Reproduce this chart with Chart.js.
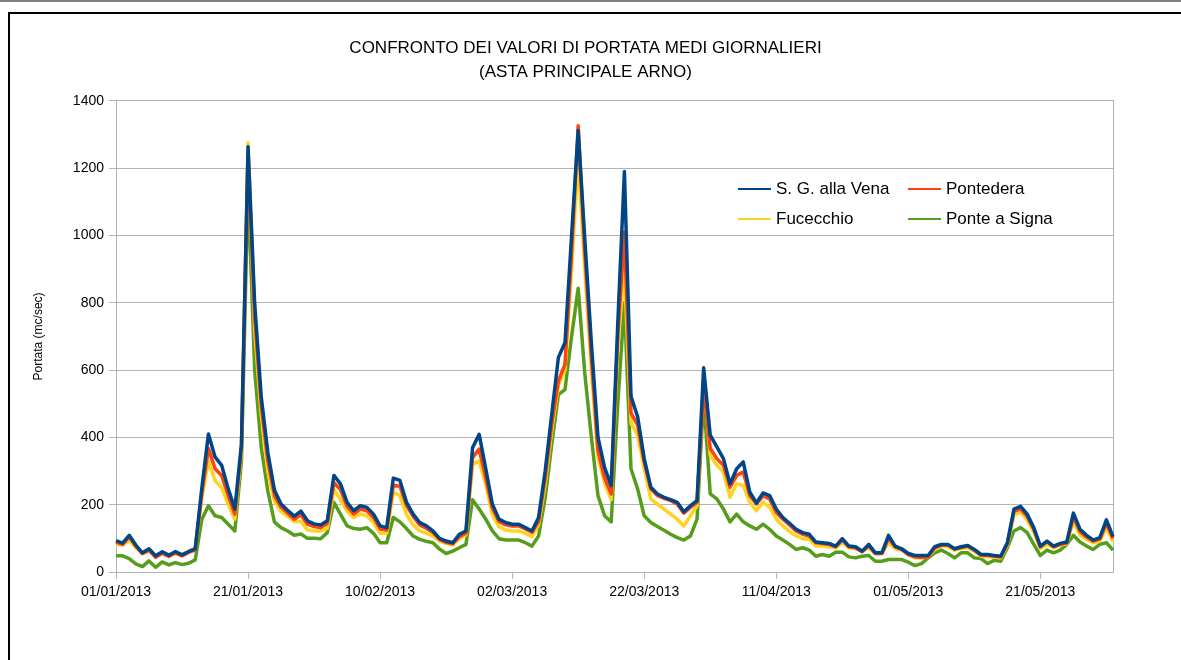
<!DOCTYPE html>
<html>
<head>
<meta charset="utf-8">
<title>Confronto dei valori di portata medi giornalieri</title>
<script src="https://cdn.jsdelivr.net/npm/chart.js@4.4.1/dist/chart.umd.min.js"></script>
<style>
  html, body { margin: 0; padding: 0; background: #fff; }
  #wrap { position: relative; width: 1181px; height: 660px; overflow: hidden; }
  #topbar { position: absolute; left: 0; top: 0; width: 1181px; height: 2px; background: #808080; }
  #frame { position: absolute; left: 8px; top: 12px; right: 0; bottom: 0; border-top: 2px solid #000; border-left: 2px solid #000; }
  #myChart { position: absolute; left: 0; top: 0; }
</style>
</head>
<body>
<div id="wrap">
  <div id="topbar"></div>
  <div id="frame"></div>
  <canvas id="myChart" width="1181" height="660"></canvas>
</div>
<script>
// serie giornaliere 01/01/2013 - 01/06/2013 (mc/sec)
const sgVena = [
  93, 86, 109, 80, 57, 69, 48, 60, 50, 61,
  51, 61, 69, 250, 410, 342, 317, 247, 187, 380,
  1264, 800, 520, 355, 243, 202, 183, 166, 181, 152,
  143, 140, 152, 287, 262, 207, 182, 197, 192, 172,
  137, 132, 279, 272, 207, 172, 147, 137, 122, 100,
  92, 87, 112, 122, 369, 409, 307, 202, 157, 147,
  142, 142, 132, 122, 162, 300, 470, 637, 682, 1000,
  1312, 990, 680, 400, 310, 257, 740, 1190, 522, 462,
  337, 252, 232, 222, 215, 207, 179, 197, 212, 607,
  407, 372, 337, 262, 307, 327, 237, 205, 235, 227,
  187, 162, 145, 127, 117, 112, 89, 87, 85, 77,
  99, 77, 75, 62, 82, 57, 57, 109, 77, 69,
  55, 49, 49, 49, 75, 82, 82, 69, 75, 79,
  67, 52, 52, 49, 47, 87, 187, 195, 172, 132,
  77, 92, 77, 85, 89, 175, 127, 109, 95, 102,
  155, 105
];
const pontedera = [
  89, 82, 104, 77, 55, 65, 44, 56, 46, 57,
  48, 58, 66, 235, 367, 307, 287, 227, 172, 370,
  1245, 760, 495, 330, 228, 193, 175, 157, 170, 142,
  135, 132, 145, 265, 245, 195, 172, 187, 182, 162,
  128, 125, 258, 255, 198, 165, 140, 130, 117, 97,
  88, 84, 105, 115, 340, 365, 280, 190, 150, 140,
  137, 137, 128, 118, 150, 280, 440, 567, 617, 950,
  1326, 950, 640, 360, 280, 232, 700, 1010, 472, 437,
  327, 247, 227, 219, 212, 202, 175, 192, 207, 550,
  367, 337, 317, 252, 287, 297, 227, 202, 227, 217,
  177, 157, 140, 122, 112, 107, 87, 85, 82, 75,
  95, 75, 72, 60, 78, 55, 55, 100, 75, 67,
  52, 45, 43, 45, 72, 80, 80, 68, 73, 77,
  65, 50, 50, 47, 45, 84, 180, 188, 165, 127,
  75, 90, 75, 82, 86, 165, 120, 104, 92, 98,
  145, 100
];
const fucecchio = [
  82, 80, 95, 72, 55, 62, 48, 55, 50, 55,
  52, 60, 72, 220, 330, 272, 250, 200, 157, 360,
  1276, 720, 465, 300, 210, 180, 165, 150, 150, 125,
  122, 122, 130, 245, 215, 180, 162, 172, 167, 147,
  115, 115, 237, 227, 170, 140, 122, 115, 107, 92,
  85, 80, 100, 110, 320, 330, 260, 170, 135, 125,
  122, 122, 115, 105, 140, 260, 420, 555, 600, 900,
  1230, 900, 600, 340, 265, 215, 680, 900, 442, 407,
  307, 217, 202, 187, 172, 157, 137, 167, 197, 570,
  347, 317, 297, 222, 262, 257, 207, 182, 207, 192,
  157, 137, 120, 107, 99, 97, 77, 77, 75, 72,
  87, 72, 69, 62, 72, 55, 55, 87, 69, 65,
  52, 42, 42, 45, 67, 77, 75, 65, 70, 72,
  62, 47, 45, 44, 42, 80, 170, 178, 155, 120,
  70, 82, 72, 80, 84, 150, 110, 97, 87, 92,
  130, 90
];
const ponteSigna = [
  48, 48, 40, 24, 16, 33, 14, 30, 21, 28,
  22, 26, 36, 157, 197, 167, 162, 142, 122, 330,
  1150, 600, 370, 240, 148, 132, 122, 109, 113, 100,
  100, 99, 117, 207, 172, 137, 129, 127, 132, 115,
  87, 87, 162, 149, 129, 107, 97, 91, 87, 68,
  55, 62, 72, 82, 215, 187, 157, 122, 99, 95,
  95, 95, 87, 77, 107, 220, 380, 527, 542, 700,
  843, 590, 400, 227, 167, 149, 500, 800, 307, 247,
  167, 147, 135, 124, 112, 102, 95, 107, 157, 520,
  232, 217, 187, 149, 172, 149, 137, 127, 142, 127,
  107, 95, 82, 67, 72, 65, 47, 52, 47, 59,
  59, 45, 42, 47, 49, 32, 32, 37, 37, 37,
  29, 19, 25, 42, 57, 65, 55, 42, 57, 57,
  42, 40, 25, 35, 32, 72, 122, 132, 117, 82,
  49, 65, 57, 65, 82, 109, 89, 77, 67, 82,
  87, 65
];

const tickLabels = ["01/01/2013", "21/01/2013", "10/02/2013", "02/03/2013",
  "22/03/2013", "11/04/2013", "01/05/2013", "21/05/2013"];
const yTicks = [0, 200, 400, 600, 800, 1000, 1200, 1400];

// un'etichetta per ogni giorno
const pad = (n) => String(n).padStart(2, "0");
const days = [];
for (let i = 0; i < sgVena.length; i++) {
  const d = new Date(Date.UTC(2013, 0, 1 + i));
  days.push(pad(d.getUTCDate()) + "/" + pad(d.getUTCMonth() + 1) + "/" + d.getUTCFullYear());
}

const gridColor = "#b3b3b3";
Chart.defaults.font.family = "'Liberation Sans', Arial, sans-serif";
Chart.defaults.color = "#000";

// legenda dentro l'area del grafico, su due colonne
const legendBox = {
  id: "legendBox",
  afterDraw(chart) {
    const { ctx, chartArea } = chart;
    const cols = [chartArea.left + 622, chartArea.left + 792];
    const rows = [chartArea.top + 88, chartArea.top + 118];
    ctx.save();
    ctx.font = "17px 'Liberation Sans', Arial, sans-serif";
    ctx.textBaseline = "middle";
    chart.data.datasets.forEach((ds, i) => {
      const x = cols[i % 2];
      const y = rows[Math.floor(i / 2)];
      ctx.strokeStyle = ds.borderColor;
      ctx.lineWidth = 2;
      ctx.beginPath();
      ctx.moveTo(x, y);
      ctx.lineTo(x + 33, y);
      ctx.stroke();
      ctx.fillStyle = "#000";
      ctx.fillText(ds.label, x + 38, y);
    });
    ctx.restore();
  },
};

const ctx = document.getElementById("myChart").getContext("2d");
const myChart = new Chart(ctx, {
  type: "line",
  data: {
    labels: days,
    datasets: [
      { label: "S. G. alla Vena", data: sgVena, borderColor: "#004586" },
      { label: "Pontedera", data: pontedera, borderColor: "#ff420e" },
      { label: "Fucecchio", data: fucecchio, borderColor: "#ffd320" },
      { label: "Ponte a Signa", data: ponteSigna, borderColor: "#579d1c" },
    ],
  },
  options: {
    responsive: false,
    animation: false,
    layout: { padding: { left: 10, right: 20, top: 0, bottom: 0 } },
    elements: {
      line: { borderWidth: 3.5, tension: 0, borderJoinStyle: "round" },
      point: { radius: 0, hoverRadius: 0 },
    },
    plugins: {
      legend: { display: false },
      tooltip: { enabled: false },
      title: {
        display: true,
        text: ["CONFRONTO DEI VALORI DI PORTATA MEDI GIORNALIERI", "(ASTA PRINCIPALE ARNO)"],
        color: "#000",
        font: { size: 17, weight: "normal", lineHeight: 1.38 },
        padding: { top: 37, bottom: 17 },
      },
    },
    scales: {
      x: {
        offset: false,
        border: { color: gridColor },
        grid: { drawOnChartArea: false, color: gridColor, tickLength: 7 },
        ticks: {
          autoSkip: false,
          maxRotation: 0,
          font: { size: 14 },
          padding: 5,
          callback: function (value, index) {
            const lab = this.getLabelForValue(value);
            return tickLabels.includes(lab) ? lab : null;
          },
        },
        afterFit: (scale) => { scale.height = 88; },
      },
      y: {
        min: 0,
        max: 1400,
        border: { color: gridColor },
        grid: { color: gridColor, tickLength: 7 },
        afterBuildTicks: (scale) => { scale.ticks = yTicks.map((v) => ({ value: v })); },
        ticks: { font: { size: 14 }, padding: 5, callback: (v) => String(v) },
        title: {
          display: true,
          text: "Portata (mc/sec)",
          font: { size: 12 },
          padding: { top: 21, bottom: 0 },
        },
        afterFit: (scale) => { scale.width = 106; },
      },
      y2: {
        position: "right",
        min: 0,
        max: 1400,
        border: { color: gridColor },
        grid: { drawOnChartArea: false, drawTicks: false },
        ticks: { display: false },
        afterFit: (scale) => { scale.width = 48; },
      },
    },
  },
  plugins: [legendBox],
});
</script>
</body>
</html>
